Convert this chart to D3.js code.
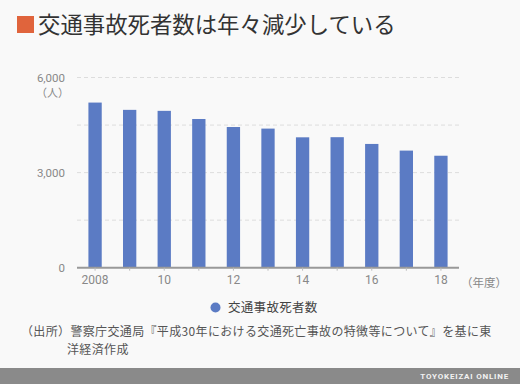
<!DOCTYPE html>
<html>
<head>
<meta charset="utf-8">
<script src="https://cdn.jsdelivr.net/npm/d3@7/dist/d3.min.js"></script>
<style>
    html, body { margin: 0; padding: 0; background: #f9f9f9; }
    svg { display: block; font-family: 'Noto Sans CJK JP', 'Noto Sans', sans-serif; }
</style>
</head>
<body>
<svg id="chart" width="520" height="384"></svg>
<script>
const years = ['2008', '2009', '2010', '2011', '2012', '2013', '2014', '2015', '2016', '2017', '2018'];
const yearLabels = ['2008', '', '10', '', '12', '', '14', '', '16', '', '18'];
const deaths = [5209, 4979, 4948, 4691, 4438, 4388, 4113, 4117, 3904, 3694, 3532];
const yTicks = [0, 3000, 6000];
const yGrid = [1500, 3000, 4500, 6000];
const seriesName = '交通事故死者数';
const title = '交通事故死者数は年々減少している';
const sourceLines = ['（出所）警察庁交通局『平成30年における交通死亡事故の特徴等について』を基に東', '洋経済作成'];

const barColour = '#5b7bc4';
const textGrey = '#888';

const svg = d3.select('#chart');
const width = 520;
const height = 384;

const margin = { left: 77, right: 61, top: 77.5, bottom: 116.3 };

const xScale = d3.scaleBand()
    .domain(years)
    .range([margin.left, width - margin.right])
    .paddingInner(0.615)
    .paddingOuter(0.33);

const yScale = d3.scaleLinear()
    .domain([0, 6000])
    .range([height - margin.bottom, margin.top]);

// title
svg.append('rect')
    .attr('x', 17).attr('y', 16)
    .attr('width', 17).attr('height', 17)
    .attr('fill', '#e0643c');
svg.append('text')
    .attr('x', 38).attr('y', 32.5)
    .attr('font-size', 22.4)
    .attr('fill', '#333')
    .text(title);

// gridlines
svg.append('g')
    .selectAll('line')
    .data(yGrid)
    .enter()
    .append('line')
    .attr('x1', margin.left)
    .attr('x2', width - margin.right)
    .attr('y1', d => yScale(d))
    .attr('y2', d => yScale(d))
    .attr('stroke', '#ddd')
    .attr('stroke-dasharray', '4,3');

// bars
svg.append('g')
    .selectAll('rect')
    .data(deaths)
    .enter()
    .append('rect')
    .attr('x', (d, i) => xScale(years[i]))
    .attr('width', xScale.bandwidth())
    .attr('y', d => yScale(d))
    .attr('height', d => yScale(0) - yScale(d))
    .attr('fill', barColour);

// y axis labels
const yAxis = svg.append('g')
    .attr('transform', `translate(${margin.left - 9},0)`)
    .call(d3.axisLeft(yScale).tickValues(yTicks).tickSize(0).tickFormat(d3.format(',')));
yAxis.select('.domain').remove();
yAxis.selectAll('text')
    .attr('font-family', 'Roboto, sans-serif')
    .attr('font-size', 11.5)
    .attr('fill', textGrey)
    .attr('dy', '0.32em');
svg.append('text')
    .attr('x', margin.left - 8).attr('y', yScale(6000) + 19)
    .attr('text-anchor', 'end')
    .attr('font-size', 11)
    .attr('fill', textGrey)
    .text('（人）');

// x axis
const xAxis = svg.append('g')
    .attr('transform', `translate(0,${yScale(0)})`)
    .call(d3.axisBottom(xScale).tickSizeInner(3).tickSizeOuter(0).tickFormat((d, i) => yearLabels[i]));
xAxis.select('.domain')
    .attr('stroke', '#999')
    .attr('stroke-width', 2)
    .attr('d', `M${margin.left},0H${width - margin.right}`);
xAxis.selectAll('.tick line').attr('stroke', '#bbb');
xAxis.selectAll('text')
    .attr('font-family', 'Roboto, sans-serif')
    .attr('font-size', 12)
    .attr('fill', textGrey)
    .attr('y', 8);
svg.append('text')
    .attr('x', width - margin.right + 2).attr('y', yScale(0) + 19.5)
    .attr('font-size', 11.5)
    .attr('fill', textGrey)
    .text('（年度）');

// legend
svg.append('circle')
    .attr('cx', 215.5).attr('cy', 307.5).attr('r', 5)
    .attr('fill', barColour);
svg.append('text')
    .attr('x', 228).attr('y', 312)
    .attr('font-size', 12.5)
    .attr('letter-spacing', 0.3)
    .attr('fill', '#444')
    .text(seriesName);

// source
svg.append('text')
    .attr('x', 21).attr('y', 336)
    .attr('font-size', 12)
    .attr('letter-spacing', 0.35)
    .attr('fill', '#555')
    .text(sourceLines[0]);
svg.append('text')
    .attr('x', 67).attr('y', 353.5)
    .attr('font-size', 12)
    .attr('letter-spacing', 0.35)
    .attr('fill', '#555')
    .text(sourceLines[1]);

// footer
svg.append('rect')
    .attr('x', 0).attr('y', 368)
    .attr('width', width).attr('height', height - 368)
    .attr('fill', '#8a8a8a');
svg.append('text')
    .attr('x', 509).attr('y', 379)
    .attr('text-anchor', 'end')
    .attr('font-family', 'Roboto, sans-serif')
    .attr('font-weight', 700)
    .attr('font-size', 8)
    .attr('letter-spacing', 0.8)
    .attr('fill', '#f2f2f2')
    .text('TOYOKEIZAI ONLINE');
</script>
</body>
</html>
